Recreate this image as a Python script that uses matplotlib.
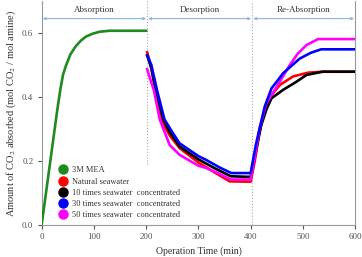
import matplotlib

matplotlib.use("Agg")

import matplotlib.pyplot as plt
from matplotlib.lines import Line2D

# 3M MEA absorption (0-200 min)
mea_time = [0, 10, 20, 30, 36, 41, 47, 55, 65, 75, 85, 98, 111, 130, 200]
mea_loading = [0.0, 0.12, 0.24, 0.36, 0.425, 0.47, 0.50, 0.533, 0.558, 0.576, 0.589, 0.598, 0.604, 0.607, 0.607]

# desorption + re-absorption (202-600 min)
red_time = [202, 210, 220, 232, 245, 264, 300, 330, 360, 400, 408, 417, 427, 440, 456, 481, 510, 538, 600]
red_loading = [0.54, 0.49, 0.40, 0.32, 0.28, 0.24, 0.195, 0.165, 0.136, 0.135,
               0.20, 0.29, 0.36, 0.406, 0.4375, 0.464, 0.476, 0.479, 0.479]

black_time = [202, 210, 220, 233, 245, 264, 300, 330, 362, 400, 410, 420, 430, 440, 462, 488, 507, 538, 600]
black_loading = [0.53, 0.49, 0.41, 0.33, 0.29, 0.245, 0.205, 0.178, 0.152, 0.15,
                 0.23, 0.31, 0.36, 0.396, 0.422, 0.448, 0.469, 0.479, 0.479]

blue_time = [202, 210, 221, 235, 250, 264, 300, 315, 340, 363, 400, 410, 417, 427, 440, 452, 462, 480, 494, 515, 535, 600]
blue_loading = [0.53, 0.50, 0.42, 0.33, 0.29, 0.255, 0.215, 0.203, 0.18, 0.162, 0.162,
                0.25, 0.30, 0.37, 0.427, 0.452, 0.474, 0.50, 0.52, 0.538, 0.549, 0.549]

pink_time = [202, 207, 215, 226, 245, 264, 300, 315, 340, 362, 400, 408, 417, 430, 450, 475, 490, 507, 529, 600]
pink_loading = [0.487, 0.46, 0.42, 0.33, 0.25, 0.219, 0.185, 0.178, 0.16, 0.142, 0.142,
                0.213, 0.30, 0.38, 0.432, 0.50, 0.535, 0.5625, 0.581, 0.581]

labels = ["3M MEA", "Natural seawater", "10 times seawater  concentrated",
          "30 times seawater  concentrated", "50 times seawater  concentrated"]
colors = ["#1f8a1f", "#ff0000", "#000000", "#0000ff", "#ff00ff"]

stages = ["Absorption", "Desorption", "Re-Absorption"]
stage_edges = [0, 202, 403, 600]

plt.rcParams["font.family"] = ["Liberation Serif", "DejaVu Serif"]
plt.rcParams["mathtext.fontset"] = "stix"

fig = plt.figure(figsize=(3.62, 2.57), dpi=100)
ax = fig.add_axes([0.115, 0.125, 0.866, 0.871])

lw = 1.9
ax.plot(mea_time, mea_loading, color=colors[0], lw=lw, zorder=3)
ax.plot(red_time, red_loading, color=colors[1], lw=lw, zorder=3)
ax.plot(black_time, black_loading, color=colors[2], lw=lw, zorder=4)
ax.plot(pink_time, pink_loading, color=colors[4], lw=lw, zorder=4)
ax.plot(blue_time, blue_loading, color=colors[3], lw=lw, zorder=5)

# stage separators
ax.plot([stage_edges[1], stage_edges[1]], [0.19, 0.7], color="#aaaaaa", lw=0.8, ls=":", zorder=1)
ax.plot([stage_edges[2], stage_edges[2]], [0.0, 0.7], color="#aaaaaa", lw=0.8, ls=":", zorder=1)

for i, name in enumerate(stages):
    x0, x1 = stage_edges[i], stage_edges[i + 1]
    ax.annotate("", xy=(x0 + 2, 0.645), xytext=(x1 - 2, 0.645),
                arrowprops=dict(arrowstyle="<->", color="#8fb3e6", lw=0.8,
                                mutation_scale=4, shrinkA=0, shrinkB=0))
    ax.text((x0 + x1) / 2, 0.672, name, ha="center", va="center", fontsize=6.5, color="#333333")

ax.set_xlim(0, 600)
ax.set_ylim(0, 0.7)
ax.set_xticks([0, 100, 200, 300, 400, 500, 600])
ax.set_yticks([0.0, 0.2, 0.4, 0.6])
ax.set_yticklabels(["0.0", "0.2", "0.4", "0.6"])
ax.tick_params(labelsize=6.5, colors="#555555", length=3, width=0.8, pad=3)
for side in ["left", "bottom", "right"]:
    ax.spines[side].set_color("#999999")
    ax.spines[side].set_linewidth(0.8)
ax.spines["top"].set_visible(False)

ax.set_xlabel("Operation Time (min)", fontsize=7, color="#333333", labelpad=4)
ax.set_ylabel("Amount of CO$_2$ absorbed (mol CO$_2$ / mol amine)", fontsize=7.5, color="#333333", labelpad=3)

handles = [Line2D([], [], ls="none", marker="o", markersize=6.5, color=c) for c in colors]
ax.legend(handles, labels, loc="lower left", bbox_to_anchor=(0.03, 0.0), frameon=False,
          fontsize=6, handletextpad=0.3, labelspacing=0.38, borderaxespad=0.3,
          handlelength=1.5, labelcolor="#333333")

fig.savefig("out.png", dpi=100)
